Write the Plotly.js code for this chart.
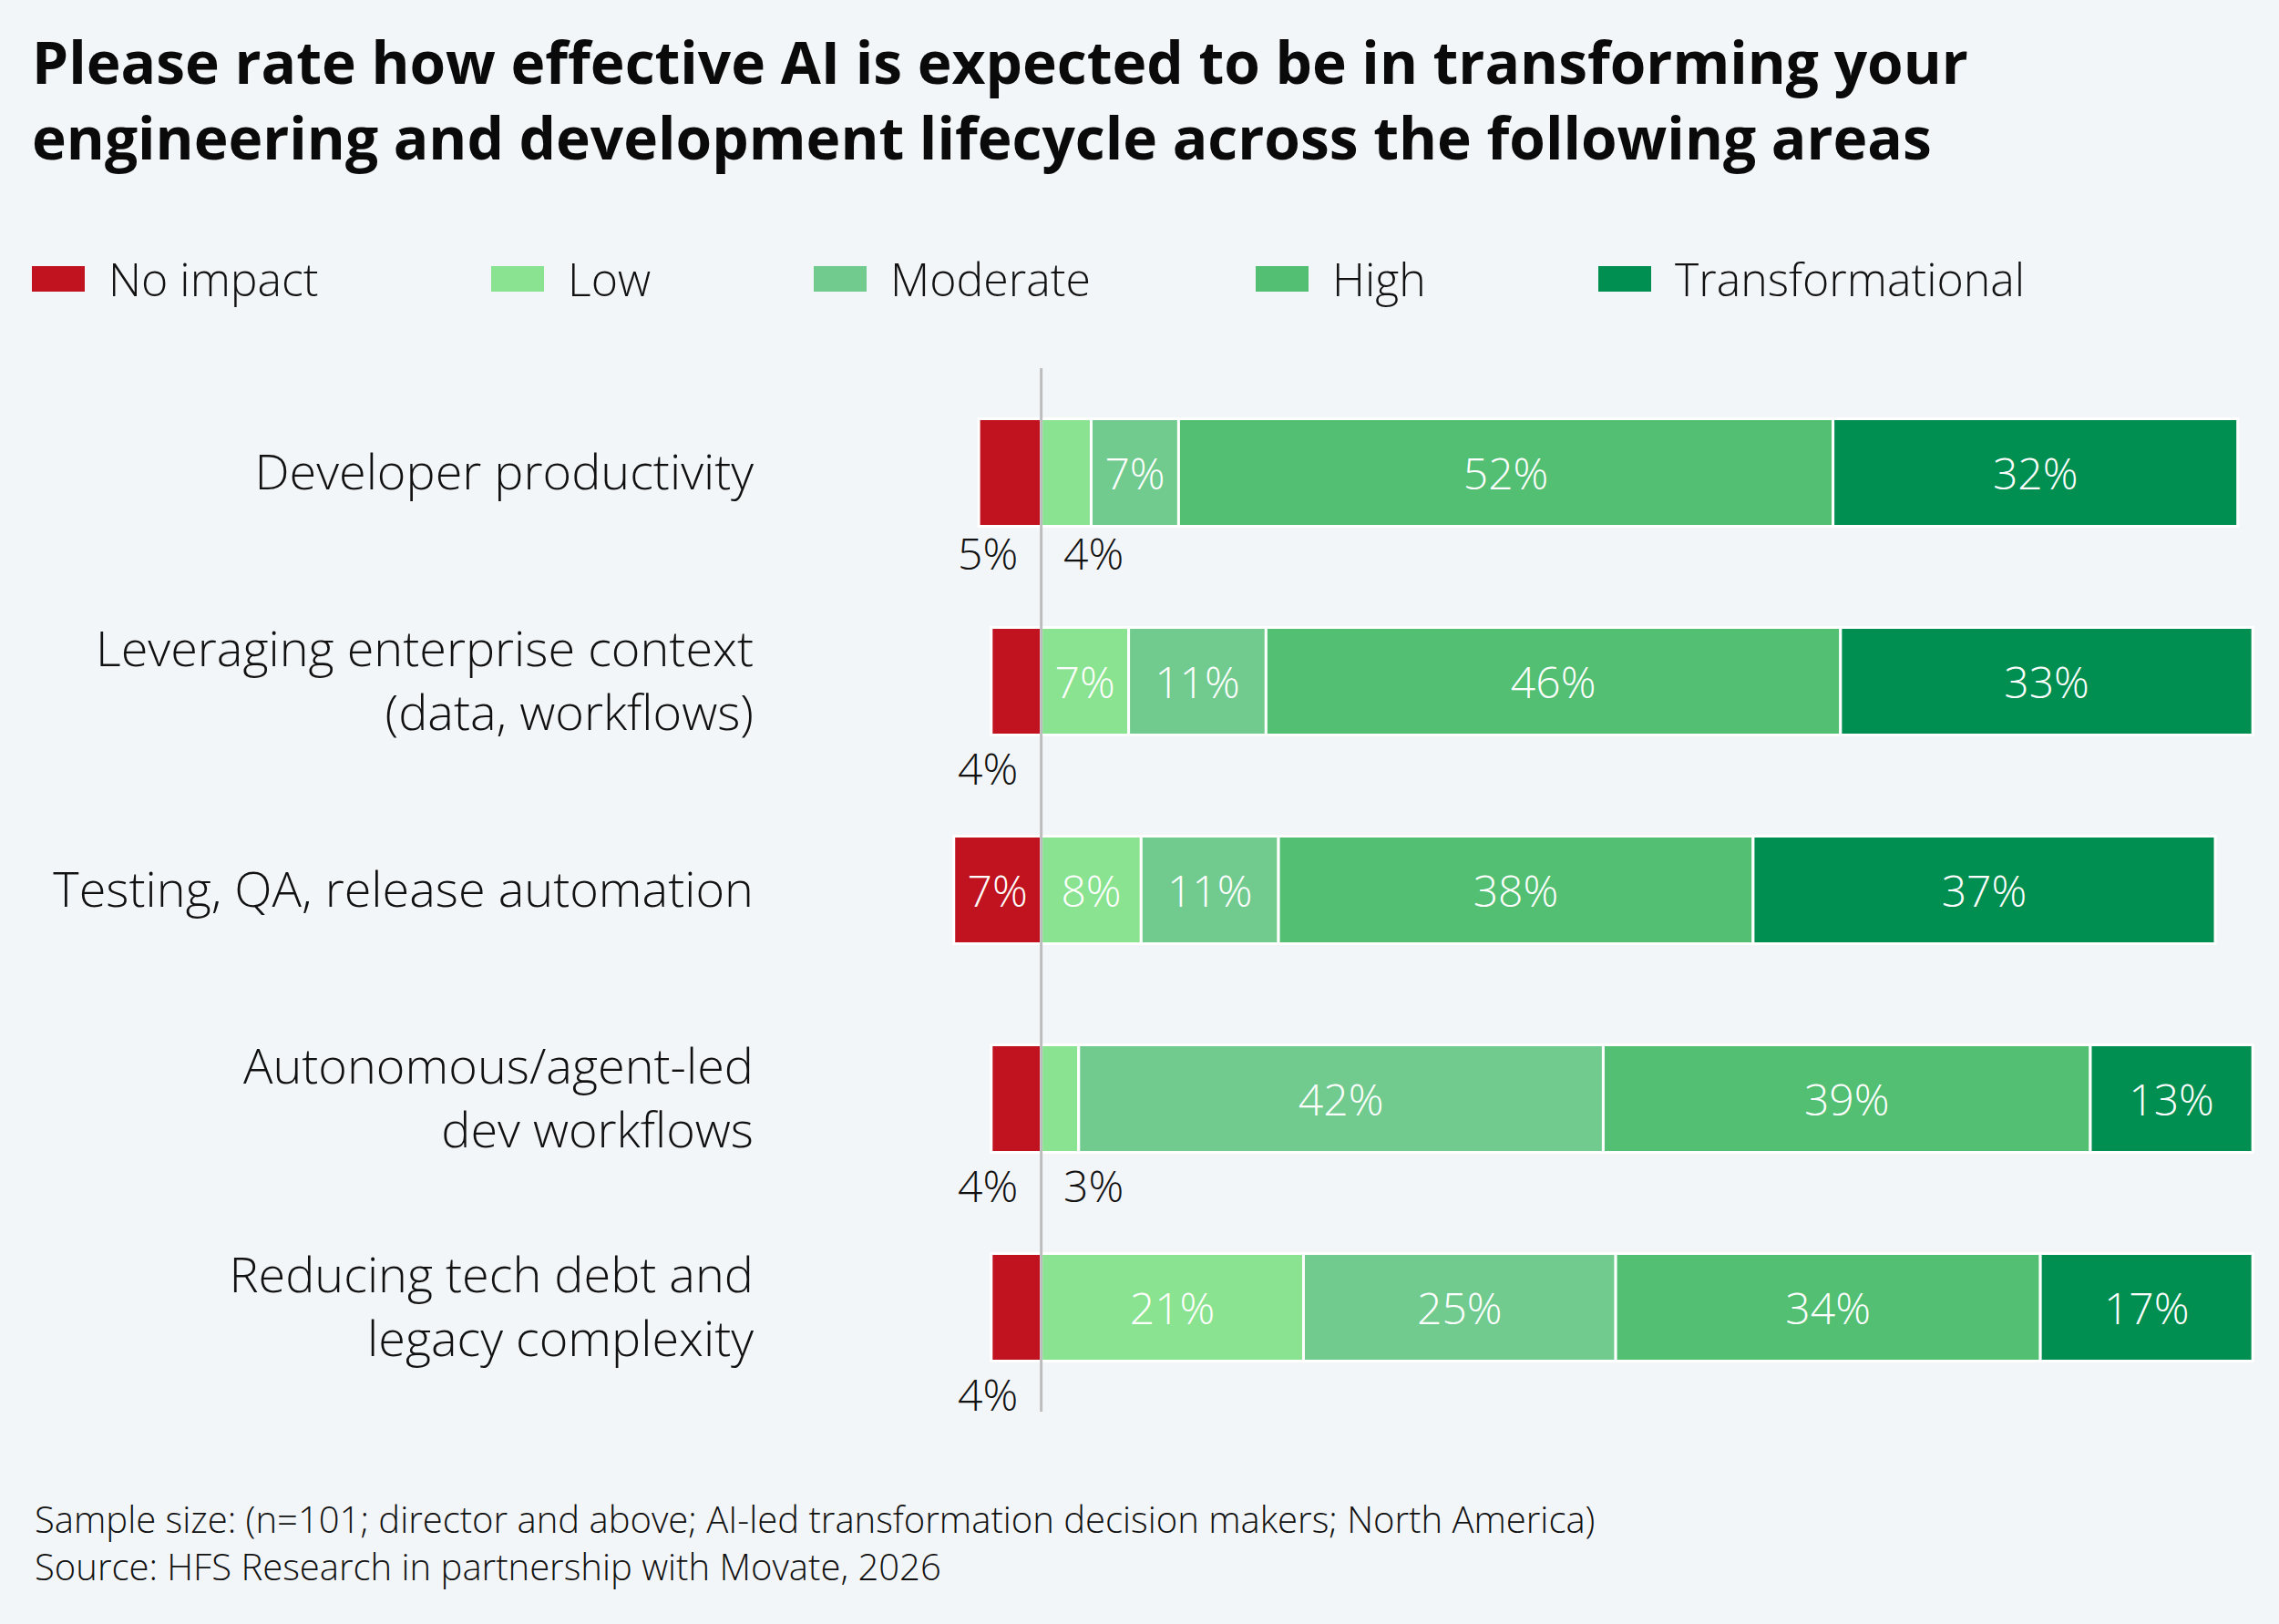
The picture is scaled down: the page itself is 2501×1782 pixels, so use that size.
<!DOCTYPE html>
<html>
<head>
<meta charset="utf-8">
<script src="https://cdn.plot.ly/plotly-3.0.1.min.js"></script>
<style>
  html, body { margin: 0; padding: 0; background: #F3F6F9; }
  #chart { width: 2501px; height: 1782px; }
</style>
</head>
<body>
<div id="chart"></div>
<script>
// ---- Data ----
const categories = [
  'Developer productivity',
  'Leveraging enterprise context<br>(data, workflows)',
  'Testing, QA, release automation',
  'Autonomous/agent-led<br>dev workflows',
  'Reducing tech debt and<br>legacy complexity'
];
const seriesNames = ['No impact', 'Low', 'Moderate', 'High', 'Transformational'];
const noImpact = [5, 4, 7, 4, 4];
const low = [4, 7, 8, 3, 21];
const moderate = [7, 11, 11, 42, 25];
const high = [52.4, 46, 38, 39, 34];
const transformational = [32.4, 33, 37, 13, 17];
const titleText = 'Please rate how effective AI is expected to be in transforming your<br>engineering and development lifecycle across the following areas';
const footnoteLines = [
  'Sample size: (n=101; director and above; AI-led transformation decision makers; North America)',
  'Source: HFS Research in partnership with Movate, 2026'
];

// ---- Styles ----
const colors = ['#C1121F', '#8AE390', '#71CB8F', '#52BF73', '#008F50'];
const FONT = '"Open Sans", "Noto Sans", sans-serif';
const W = 2501, H = 1782;
const M = { l: 1033, r: 22, t: 404, b: 233 };
const PW = W - M.l - M.r, PH = H - M.t - M.b;
const insideMin = 7; // values below this get labels under the bar
const px2x = p => (p - M.l) / PW;
const py2y = p => 1 - (p - M.t) / PH;
const pct = v => Math.round(v) + '%';

const seriesValues = [noImpact, low, moderate, high, transformational];

const traces = seriesValues.map((vals, i) => ({
  type: 'bar',
  orientation: 'h',
  name: seriesNames[i],
  y: categories,
  x: vals.map(v => i === 0 ? -v : v),
  width: 0.515,
  marker: { color: colors[i], line: { color: '#FFFFFF', width: 3 } },
  text: vals.map(v => v >= insideMin ? pct(v) : ''),
  textposition: 'inside',
  insidetextanchor: 'middle',
  constraintext: 'none',
  textfont: { family: FONT, size: 48, color: '#FFFFFF', weight: 300 },
  hoverinfo: 'name+text',
  showlegend: false
}));

// Outside labels for small segments
const annotations = [];
[0, 1].forEach(si => {
  seriesValues[si].forEach((v, ci) => {
    if (v < insideMin) {
      annotations.push({
        x: 0, y: categories[ci], xref: 'x', yref: 'y',
        text: pct(v), showarrow: false,
        xanchor: si === 0 ? 'right' : 'left',
        xshift: si === 0 ? -24 : 22,
        yanchor: 'middle', yshift: ci === 0 ? -88 : -95,
        font: { family: FONT, size: 48, color: '#111111', weight: 300 }
      });
    }
  });
});

// Custom legend
const legendX = [35, 539, 893, 1378, 1754];
const legendY = 306;
const shapes = [];
seriesNames.forEach((n, i) => {
  shapes.push({
    type: 'rect', xref: 'paper', yref: 'paper',
    x0: px2x(legendX[i]), x1: px2x(legendX[i] + 58),
    y0: py2y(legendY + 14), y1: py2y(legendY - 14),
    fillcolor: colors[i], line: { width: 0 }
  });
  annotations.push({
    xref: 'paper', yref: 'paper',
    x: px2x(legendX[i] + 82), y: py2y(legendY),
    xanchor: 'left', yanchor: 'middle', showarrow: false,
    text: n,
    font: { family: FONT, size: 50, color: '#111111', weight: 300 }
  });
});

// Zero line on top
shapes.push({
  type: 'line', xref: 'x', yref: 'paper', x0: 0, x1: 0, y0: 0, y1: 1,
  line: { color: '#BDBDBD', width: 3 }, layer: 'above'
});

// Footnotes (one block)
annotations.push({
  xref: 'paper', yref: 'paper',
  x: px2x(36), y: py2y(1692),
  xanchor: 'left', yanchor: 'middle', align: 'left', showarrow: false,
  text: footnoteLines.join('<br>'),
  font: { family: FONT, size: 40, color: '#111111', weight: 300 }
});

const layout = {
  width: W, height: H,
  paper_bgcolor: '#F3F6F9', plot_bgcolor: '#F3F6F9',
  margin: M,
  barmode: 'relative',
  title: {
    text: titleText,
    xref: 'container', yref: 'container',
    x: 35 / W, xanchor: 'left',
    y: 1 - 92 / H, yanchor: 'top',
    pad: { l: 0, t: 0 },
    font: { family: FONT, size: 64, color: '#0A0A0A', weight: 700 }
  },
  xaxis: {
    range: [-8, 97.5], showgrid: false, zeroline: false,
    showticklabels: false, showline: false, fixedrange: true
  },
  yaxis: {
    type: 'category', range: [4.5, -0.5],
    showgrid: false, zeroline: false, showline: false, ticks: '',
    ticklabelstandoff: 205,
    tickfont: { family: FONT, size: 54, color: '#111111', weight: 300 },
    fixedrange: true
  },
  shapes: shapes,
  annotations: annotations,
  showlegend: false
};

Plotly.newPlot('chart', traces, layout, { displayModeBar: false, staticPlot: true });
</script>
</body>
</html>
